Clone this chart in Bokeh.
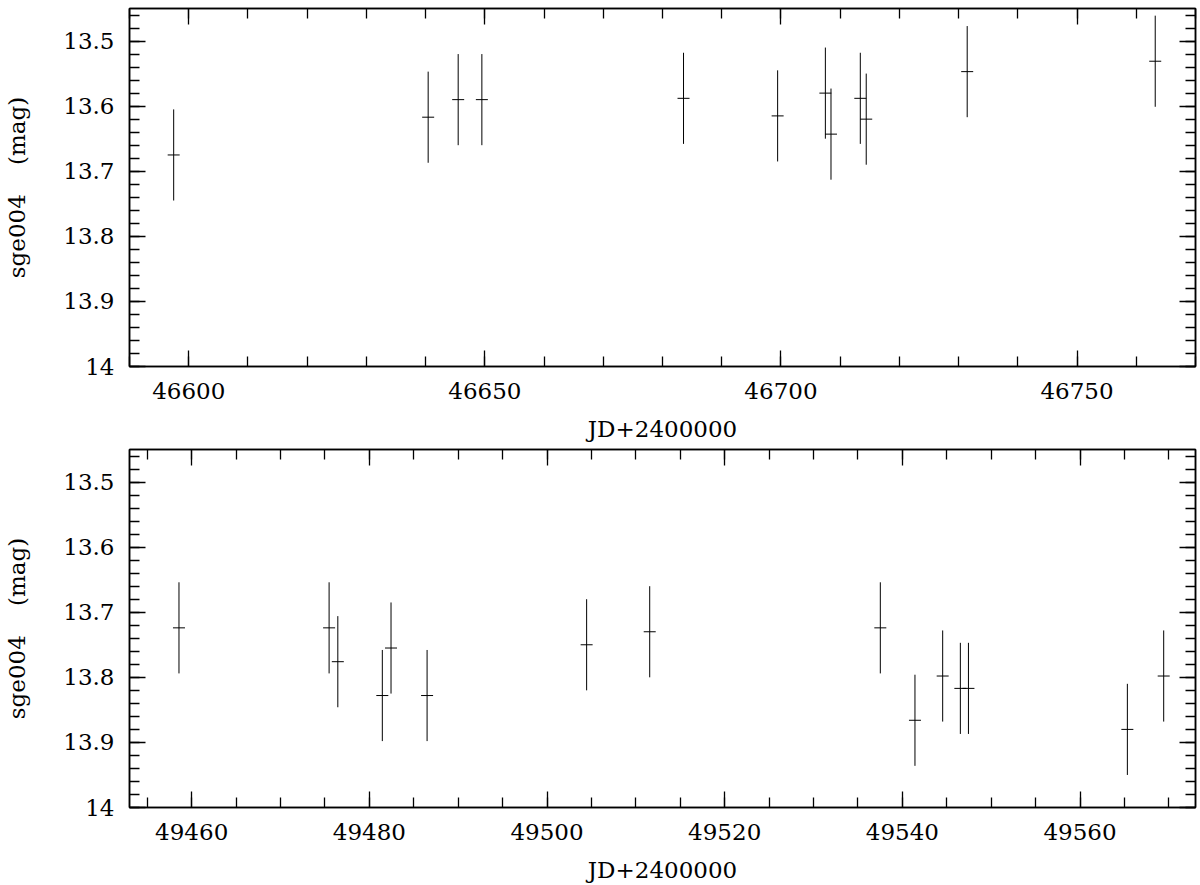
from bokeh.plotting import figure
from bokeh.layouts import column
from bokeh.models import Range1d, LinearAxis, FixedTicker, CustomJSTickFormatter, ColumnDataSource
from bokeh.embed import file_html
from bokeh.resources import INLINE

# ---- data: top panel (1986 season) ----
jd_top = [46597.46, 46640.43, 46645.50, 46649.50, 46683.55, 46699.44,
          46707.50, 46708.45, 46713.40, 46714.40, 46731.45, 46763.20]
mag_top = [13.675, 13.617, 13.590, 13.590, 13.588, 13.615,
           13.580, 13.643, 13.588, 13.620, 13.547, 13.531]
err_top = [0.07, 0.07, 0.07, 0.07, 0.07, 0.07,
           0.07, 0.07, 0.07, 0.07, 0.07, 0.07]

# ---- data: bottom panel (1994 season) ----
jd_bot = [49458.57, 49475.47, 49476.45, 49481.46, 49482.44, 49486.50,
          49504.46, 49511.56, 49537.52, 49541.42, 49544.54, 49546.53,
          49547.44, 49565.33, 49569.42]
mag_bot = [13.724, 13.724, 13.776, 13.828, 13.755, 13.828,
           13.750, 13.730, 13.724, 13.866, 13.798, 13.817,
           13.817, 13.880, 13.798]
err_bot = [0.07, 0.07, 0.07, 0.07, 0.07, 0.07,
           0.07, 0.07, 0.07, 0.07, 0.07, 0.07,
           0.07, 0.07, 0.07]

# ---- ticks ----
xmajor_top = [46600, 46650, 46700, 46750]
xminor_top = [46590 + 10 * i for i in range(19)]
xmajor_bot = [49460, 49480, 49500, 49520, 49540, 49560]
xminor_bot = [49455 + 5 * i for i in range(24)]
ymajor = [13.5, 13.6, 13.7, 13.8, 13.9, 14.0]
yminor = [round(13.46 + 0.02 * i, 2) for i in range(28)]

x_label = "JD+2400000"
y_label = "sge004\u00a0\u00a0\u00a0\u00a0(mag)"
FONT = "DejaVu Serif"
FS = "23px"

yfmt_code = "const s = tick.toFixed(1); return s.endsWith('.0') ? s.slice(0, -2) : s;"
xfmt_code = "return tick.toFixed(0);"
blank_code = "return '';"


def style_axis(ax, labels=True):
    ax.axis_line_color = "black"
    ax.axis_line_width = 1.5
    ax.major_tick_line_color = "black"
    ax.minor_tick_line_color = "black"
    ax.major_tick_line_width = 1.3
    ax.minor_tick_line_width = 1.3
    ax.major_tick_in = 16
    ax.major_tick_out = 0
    ax.minor_tick_in = 10
    ax.minor_tick_out = 0
    ax.major_label_text_font = FONT
    ax.major_label_text_color = "black"
    ax.axis_label_text_font = FONT
    ax.axis_label_text_font_size = FS
    ax.axis_label_text_font_style = "normal"
    ax.axis_label_text_color = "black"
    if labels:
        ax.major_label_text_font_size = FS
    else:
        ax.major_label_text_font_size = "0px"
        ax.major_label_standoff = 0
        ax.axis_label = None


def panel(jd, mag, err, xr, xmajor, xminor, height, btop, bbottom):
    p = figure(width=1200, height=height, output_backend="svg", toolbar_location=None,
               x_range=Range1d(*xr), y_range=Range1d(14.0, 13.45),
               min_border_left=129, min_border_right=5,
               min_border_top=btop, min_border_bottom=bbottom,
               x_axis_label=x_label, y_axis_label=y_label)
    p.xgrid.visible = False
    p.ygrid.visible = False
    p.outline_line_color = "black"
    p.outline_line_width = 1.5
    p.background_fill_color = "white"
    p.border_fill_color = "white"

    xt = FixedTicker(ticks=xmajor, minor_ticks=xminor)
    yt = FixedTicker(ticks=ymajor, minor_ticks=yminor)

    p.xaxis.ticker = xt
    p.xaxis.formatter = CustomJSTickFormatter(code=xfmt_code)
    p.yaxis.ticker = yt
    p.yaxis.formatter = CustomJSTickFormatter(code=yfmt_code)
    style_axis(p.xaxis[0])
    style_axis(p.yaxis[0])
    p.xaxis[0].major_label_standoff = 16
    p.xaxis[0].axis_label_standoff = 14
    p.yaxis[0].major_label_standoff = 15
    p.yaxis[0].axis_label_standoff = 30

    top_ax = LinearAxis(ticker=xt, formatter=CustomJSTickFormatter(code=blank_code))
    right_ax = LinearAxis(ticker=yt, formatter=CustomJSTickFormatter(code=blank_code))
    style_axis(top_ax, labels=False)
    style_axis(right_ax, labels=False)
    p.add_layout(top_ax, "above")
    p.add_layout(right_ax, "right")

    src = ColumnDataSource(dict(
        x=jd, y=mag,
        lo=[m - e for m, e in zip(mag, err)],
        hi=[m + e for m, e in zip(mag, err)],
    ))
    p.segment(x0="x", y0="lo", x1="x", y1="hi", source=src, line_color="black", line_width=1)
    p.scatter(x="x", y="y", source=src, marker="dash", size=12, line_color="black", line_width=1)
    return p


p1 = panel(jd_top, mag_top, err_top, (46590, 46770), xmajor_top, xminor_top, 444, 8, 75)
p2 = panel(jd_bot, mag_bot, err_bot, (49453, 49573), xmajor_bot, xminor_bot, 441, 5, 75)

layout = column(p1, p2)
open("out.html", "w").write(file_html(layout, INLINE))
